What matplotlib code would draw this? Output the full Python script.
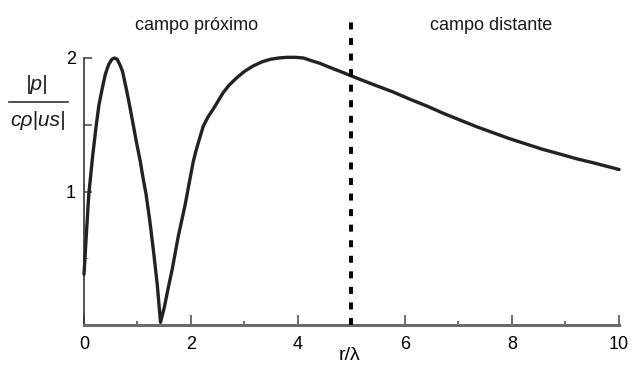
"""
On-axis pressure amplitude of a piston source, near field vs far field.
"""

import matplotlib
matplotlib.use("Agg")
import matplotlib.pyplot as plt

plt.rcParams['font.family'] = ['Liberation Sans', 'DejaVu Sans']

# distance along the axis, in wavelengths
r_lambda = [0.0, 0.05, 0.09, 0.16, 0.23, 0.28, 0.34, 0.40, 0.46, 0.52,
            0.57, 0.62, 0.67, 0.72, 0.79, 0.85, 0.92, 0.98, 1.05, 1.10,
            1.16, 1.23, 1.30, 1.37, 1.43, 1.50, 1.56, 1.65, 1.76, 1.89,
            1.96, 2.04, 2.09, 2.14, 2.23, 2.32, 2.42, 2.51, 2.60, 2.72,
            2.85, 3.00, 3.16, 3.32, 3.48, 3.64, 3.79, 3.95, 4.10, 4.25,
            4.41, 4.56, 4.72, 4.85, 4.97, 5.16, 5.35, 5.55, 5.78, 6.10,
            6.41, 6.72, 7.03, 7.34, 7.65, 7.96, 8.27, 8.58, 8.90, 9.21,
            9.52, 9.76, 10.0]
# normalised pressure |p| / (c rho |u s|)
p_norm = [0.38, 0.72, 0.98, 1.26, 1.50, 1.65, 1.77, 1.88, 1.95, 1.99,
          2.00, 1.99, 1.95, 1.90, 1.77, 1.65, 1.50, 1.37, 1.23, 1.11,
          0.98, 0.78, 0.55, 0.30, 0.02, 0.13, 0.25, 0.42, 0.66, 0.90,
          1.05, 1.22, 1.30, 1.37, 1.49, 1.56, 1.62, 1.68, 1.74, 1.80,
          1.85, 1.90, 1.94, 1.97, 1.99, 2.00, 2.005, 2.005, 2.00, 1.98,
          1.96, 1.935, 1.91, 1.89, 1.87, 1.84, 1.81, 1.78, 1.745, 1.69,
          1.64, 1.585, 1.535, 1.485, 1.44, 1.395, 1.355, 1.315, 1.28, 1.245,
          1.215, 1.19, 1.165]

x_major = [0, 2, 4, 6, 8, 10]
x_minor = [1, 3, 5, 7, 9]
y_ticks = [1, 1.5, 2]
y_labels = ['1', '', '2']
boundary = 5  # near field / far field limit

W, H = 632, 365
fig = plt.figure(figsize=(W / 100, H / 100), dpi=100)
ax = fig.add_axes([84 / W, 1 - 325 / H, (619 - 84) / W, (325 - 58) / H])

ax.plot(r_lambda, p_norm, color='#222222', lw=2.4, solid_joinstyle='round',
        solid_capstyle='round', clip_on=False, zorder=3)

# dashed boundary, running up past the top of the axes
ax.plot([boundary, boundary], [0, 2.32], color='black', lw=2.8,
        linestyle=(0, (1.8, 2.2)), clip_on=False, zorder=4)

ax.set_xlim(0, 10)
ax.set_ylim(0, 2)

for side in ['top', 'right']:
    ax.spines[side].set_visible(False)
ax.spines['left'].set_color('#333333')
ax.spines['left'].set_linewidth(1.2)
ax.spines['left'].set_bounds(0, 2)
ax.spines['bottom'].set_color('#6a6a6a')
ax.spines['bottom'].set_linewidth(2.2)

ax.set_xticks(x_major)
ax.set_xticks(x_minor, minor=True)
ax.set_yticks(y_ticks)
ax.set_yticklabels(y_labels)
ax.set_yticks([0.5], minor=True)

ax.tick_params(axis='x', which='major', direction='in', length=7, width=1.2,
               color='#555555', labelsize=13, pad=8)
ax.tick_params(axis='x', which='minor', direction='in', length=3, width=1.2,
               color='#555555')
ax.tick_params(axis='y', which='major', direction='in', length=6, width=1.1,
               color='#444444', labelsize=13, pad=6)
ax.tick_params(axis='y', which='minor', direction='in', length=3, width=0.8,
               color='#999999')

# region captions
fig.text(197 / W, 1 - 25 / H, 'campo próximo', fontsize=13, color='#1a1a1a',
         ha='center', va='center')
fig.text(491 / W, 1 - 25 / H, 'campo distante', fontsize=13, color='#1a1a1a',
         ha='center', va='center')

# axis label r/λ sits under the boundary line
fig.text(350 / W, 1 - 355 / H, 'r/λ', fontsize=14, color='black',
         ha='center', va='center')

# y label as a stacked fraction
fig.text(37 / W, 1 - 84 / H, '|p|', fontsize=15, style='italic',
         color='#1a1a1a', ha='center', va='center')
fig.add_artist(plt.Line2D([9 / W, 68 / W], [1 - 102 / H, 1 - 102 / H],
                          color='#333333', lw=1.2))
fig.text(38 / W, 1 - 120 / H, 'cρ|us|', fontsize=15, style='italic',
         color='#1a1a1a', ha='center', va='center')

fig.savefig('out.png', dpi=100)
